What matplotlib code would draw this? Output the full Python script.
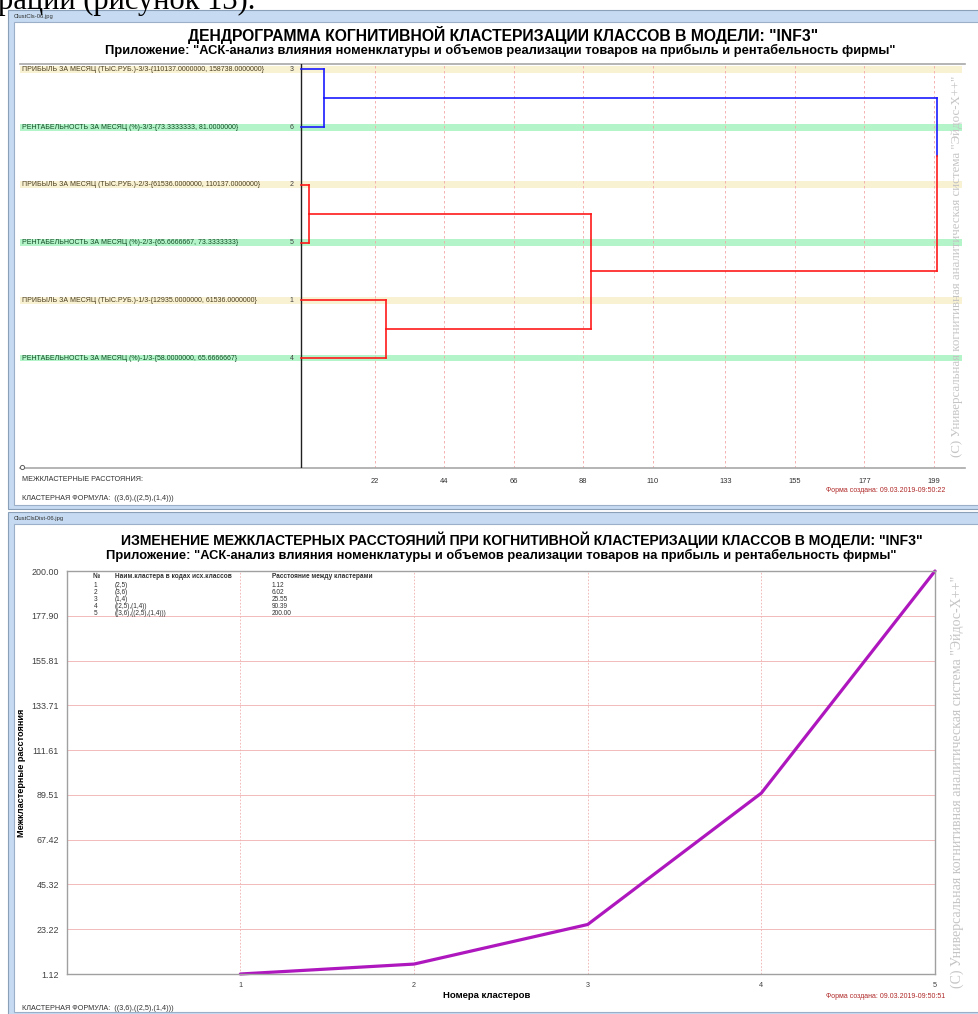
import matplotlib
matplotlib.use("Agg")
import matplotlib.pyplot as plt
from matplotlib.patches import Rectangle

W, H = 979, 1014

# ---- data: dendrogram ----
leaf_order = [3, 6, 2, 5, 1, 4]  # top to bottom
leaf_labels = {
    3: "ПРИБЫЛЬ ЗА МЕСЯЦ (ТЫС.РУБ.)-3/3-{110137.0000000, 158738.0000000}",
    6: "РЕНТАБЕЛЬНОСТЬ ЗА МЕСЯЦ (%)-3/3-{73.3333333, 81.0000000}",
    2: "ПРИБЫЛЬ ЗА МЕСЯЦ (ТЫС.РУБ.)-2/3-{61536.0000000, 110137.0000000}",
    5: "РЕНТАБЕЛЬНОСТЬ ЗА МЕСЯЦ (%)-2/3-{65.6666667, 73.3333333}",
    1: "ПРИБЫЛЬ ЗА МЕСЯЦ (ТЫС.РУБ.)-1/3-{12935.0000000, 61536.0000000}",
    4: "РЕНТАБЕЛЬНОСТЬ ЗА МЕСЯЦ (%)-1/3-{58.0000000, 65.6666667}",
}
merge_left = ["2", "3", "1", "(2,5)", "(3,6)"]
merge_right = ["5", "6", "4", "(1,4)", "((2,5),(1,4))"]
merge_dist = [1.12, 6.02, 25.55, 90.39, 200.00]
merge_color = ["#ff1a1a", "#1a1aff", "#ff1a1a", "#ff1a1a", "#ff1a1a"]
dendro_ticks = [22, 44, 66, 88, 110, 133, 155, 177, 199]

# ---- data: distance curve ----
cluster_no = [1, 2, 3, 4, 5]
cluster_names = ["(2,5)", "(3,6)", "(1,4)", "((2,5),(1,4))", "((3,6),((2,5),(1,4)))"]
cluster_dist = [1.12, 6.02, 25.55, 90.39, 200.00]
dist_ticks = [1.12, 23.22, 45.32, 67.42, 89.51, 111.61, 133.71, 155.81, 177.90, 200.00]

SANS = ["Liberation Sans", "DejaVu Sans"]
NARROW = ["Liberation Sans Narrow", "Liberation Sans", "DejaVu Sans"]
SERIF = ["Liberation Serif", "DejaVu Serif"]

fig = plt.figure(figsize=(W / 100, H / 100), dpi=100)


def fx(x):
    return x / W


def fy(y):
    return 1 - y / H


def add_px_axes(l, t, r, b):
    return fig.add_axes([fx(l), fy(b), (r - l) / W, (b - t) / H])


# background with window frames (pixel coords)
bg = fig.add_axes([0, 0, 1, 1])
bg.set_xlim(0, W)
bg.set_ylim(H, 0)
bg.axis("off")
for top, bot, name in [(10, 509, "ClustCls-06.jpg"), (512, 1016, "ClustClsDist-06.jpg")]:
    bg.add_patch(Rectangle((8, top), 975, bot - top, fc="#c6dbf1", ec="#8aa0b8", lw=0.8))
    bg.add_patch(Rectangle((14, top + 12), 965, bot - top - 16, fc="white", ec="#9bb0c8", lw=0.8))
    bg.text(14, top + 6.5, name, fontsize=4.2, family=SANS, color="#303030", va="center")
fig.text(fx(-2), fy(9), "рации (рисунок 13).", fontsize=22, family=SERIF,
         color="black", va="baseline")

# ---- top window: dendrogram ----
fig.text(fx(503), fy(35), 'ДЕНДРОГРАММА КОГНИТИВНОЙ КЛАСТЕРИЗАЦИИ КЛАССОВ В МОДЕЛИ: "INF3"',
         ha="center", va="center", fontsize=11.3, weight="bold", family=SANS)
fig.text(fx(500), fy(50.5), 'Приложение: "АСК-анализ влияния номенклатуры и объемов реализации товаров на прибыль и рентабельность фирмы"',
         ha="center", va="center", fontsize=9.3, weight="bold", family=SANS)

ax1 = add_px_axes(20, 64, 965, 468)
x0, scale = 305, 3.16
ax1.set_xlim((20 - x0) / scale, (965 - x0) / scale)
row_px0, row_step = 69.3, 57.74
ax1.set_ylim((468 - row_px0) / row_step, (64 - row_px0) / row_step)
for s in ["left", "right"]:
    ax1.spines[s].set_visible(False)
for s in ["top", "bottom"]:
    ax1.spines[s].set_color("#a8a8a8")
    ax1.spines[s].set_linewidth(1.2)
ax1.set_yticks([])
ax1.set_xticks(dendro_ticks)
ax1.set_xticklabels([str(t) for t in dendro_ticks], fontsize=5.4, family=NARROW, color="#303030")
ax1.tick_params(axis="x", length=0, pad=7)
ax1.grid(axis="x", color="#f3a6a6", lw=0.6, ls=(0, (3, 3)))
ax1.set_axisbelow(True)

axis_x = (301 - x0) / scale
xl = ax1.get_xlim()
for i, leaf in enumerate(leaf_order):
    band = "#f8f1d2" if i % 2 == 0 else "#b3f5c9"
    tcol = "#4a3c20" if i % 2 == 0 else "#124a24"
    ax1.axhspan(i - 0.06, i + 0.06, xmin=0.0, xmax=(962 - 20) / (965 - 20), color=band, lw=0, zorder=0)
    ax1.text(xl[0] + 0.6, i, leaf_labels[leaf], fontsize=5.0, family=NARROW, color=tcol, va="center")
    ax1.text(axis_x - 2.3, i, str(leaf), fontsize=5.0, family=NARROW, color="#404040",
             va="center", ha="right")
ax1.axvline(axis_x, color="#202020", lw=1.0, zorder=3)
ax1.plot([xl[0] + 0.7], [(467 - row_px0) / row_step], marker="o", ms=3, mfc="white",
         mec="#606060", mew=0.7, clip_on=False, zorder=5)

# dendrogram links built from merges
pos = {str(l): i for i, l in enumerate(leaf_order)}
height = {str(l): axis_x for l in leaf_order}
span = {str(l): (i, i) for i, l in enumerate(leaf_order)}
ccol = {}
for l, r, d, c in zip(merge_left, merge_right, merge_dist, merge_color):
    cl = ccol.get(l, c)
    cr = ccol.get(r, c)
    split = (span[l][1] + span[r][0]) / 2
    ax1.plot([height[l], d], [pos[l], pos[l]], color=cl, lw=1.2, zorder=4)
    ax1.plot([height[r], d], [pos[r], pos[r]], color=cr, lw=1.2, zorder=4)
    ax1.plot([d, d], [pos[l], split], color=cl, lw=1.2, zorder=4)
    ax1.plot([d, d], [split, pos[r]], color=cr, lw=1.2, zorder=4)
    name = "(" + l + "," + r + ")"
    pos[name] = (pos[l] + pos[r]) / 2
    height[name] = d
    span[name] = (min(span[l][0], span[r][0]), max(span[l][1], span[r][1]))
    ccol[name] = c

fig.text(fx(22), fy(479), "МЕЖКЛАСТЕРНЫЕ РАССТОЯНИЯ:", fontsize=5.2, family=NARROW,
         color="#303030", va="center")
fig.text(fx(22), fy(499), "КЛАСТЕРНАЯ ФОРМУЛА:  " + "(" + merge_left[-1] + "," + merge_right[-1] + ")",
         fontsize=5.2, family=NARROW, color="#303030", va="center")
fig.text(fx(945), fy(491), "Форма создана: 09.03.2019-09:50:22", fontsize=5.0, family=NARROW,
         color="#b02828", va="center", ha="right")
wm = '(C) Универсальная когнитивная аналитическая система "Эйдос-Х++"'
fig.text(fx(957), fy(266), wm, rotation=90, fontsize=9.3, family=SERIF, color="#c4c4c4",
         ha="center", va="center")

# ---- bottom window: distances ----
fig.text(fx(522), fy(540), 'ИЗМЕНЕНИЕ МЕЖКЛАСТЕРНЫХ РАССТОЯНИЙ ПРИ КОГНИТИВНОЙ КЛАСТЕРИЗАЦИИ КЛАССОВ В МОДЕЛИ: "INF3"',
         ha="center", va="center", fontsize=10.1, weight="bold", family=SANS)
fig.text(fx(501), fy(555.5), 'Приложение: "АСК-анализ влияния номенклатуры и объемов реализации товаров на прибыль и рентабельность фирмы"',
         ha="center", va="center", fontsize=9.3, weight="bold", family=SANS)

ax2 = add_px_axes(66.7, 571, 935, 974)
ax2.set_xlim(0, 5)
ax2.set_ylim(dist_ticks[0], dist_ticks[-1])
for s in ax2.spines.values():
    s.set_color("#a0a0a0")
    s.set_linewidth(1.0)
ax2.set_yticks(dist_ticks)
ax2.set_yticklabels(["%.2f" % v for v in dist_ticks], fontsize=6.4, family=SANS, color="#404040")
ax2.set_xticks(cluster_no)
ax2.set_xticklabels([str(v) for v in cluster_no], fontsize=5.2, family=SANS, color="#404040")
ax2.tick_params(axis="y", length=0, pad=5.5)
ax2.tick_params(axis="x", length=0, pad=6)
ax2.grid(axis="y", color="#f0b0b0", lw=0.6)
ax2.grid(axis="x", color="#f0b0b0", lw=0.6, ls=(0, (2, 2)))
ax2.set_axisbelow(True)
ax2.plot(cluster_no, cluster_dist, color="#ae17bd", lw=2.3, solid_capstyle="round", clip_on=False)
ax2.set_ylabel("Межкластерные расстояния", fontsize=6.6, weight="bold", family=SANS)
ax2.yaxis.set_label_coords((26 - 66.7) / (935 - 66.7), 0.5)
ax2.set_xlabel("Номера кластеров", fontsize=6.8, weight="bold", family=SANS)
ax2.xaxis.set_label_coords((487 - 66.7) / (935 - 66.7), -(996 - 974) / (974 - 571))
ax2.xaxis.label.set_va("center")

# table of merges inside the plot
fs_tab = 4.7
fig.text(fx(93), fy(576.5), "№", fontsize=fs_tab, weight="bold", family=SANS, color="#303030", va="center")
fig.text(fx(115), fy(576.5), "Наим.кластера в кодах исх.классов", fontsize=fs_tab, weight="bold",
         family=SANS, color="#303030", va="center")
fig.text(fx(272), fy(576.5), "Расстояние между кластерами", fontsize=fs_tab, weight="bold",
         family=SANS, color="#303030", va="center")
for k, (n, nm, d) in enumerate(zip(cluster_no, cluster_names, cluster_dist)):
    yy = 585.5 + k * 7.1
    fig.text(fx(94), fy(yy), str(n), fontsize=fs_tab, family=SANS, color="#303030", va="center")
    fig.text(fx(115), fy(yy), nm, fontsize=fs_tab, family=SANS, color="#303030", va="center")
    fig.text(fx(272), fy(yy), "%.2f" % d, fontsize=fs_tab, family=SANS, color="#303030", va="center")

fig.text(fx(22), fy(1008), "КЛАСТЕРНАЯ ФОРМУЛА:  " + cluster_names[-1], fontsize=5.2, family=NARROW,
         color="#303030", va="center")
fig.text(fx(945), fy(996), "Форма создана: 09.03.2019-09:50:51", fontsize=5.0, family=NARROW,
         color="#b02828", va="center", ha="right")
fig.text(fx(957), fy(782), wm, rotation=90, fontsize=10, family=SERIF, color="#c4c4c4",
         ha="center", va="center")

fig.savefig("out.png", dpi=100)
